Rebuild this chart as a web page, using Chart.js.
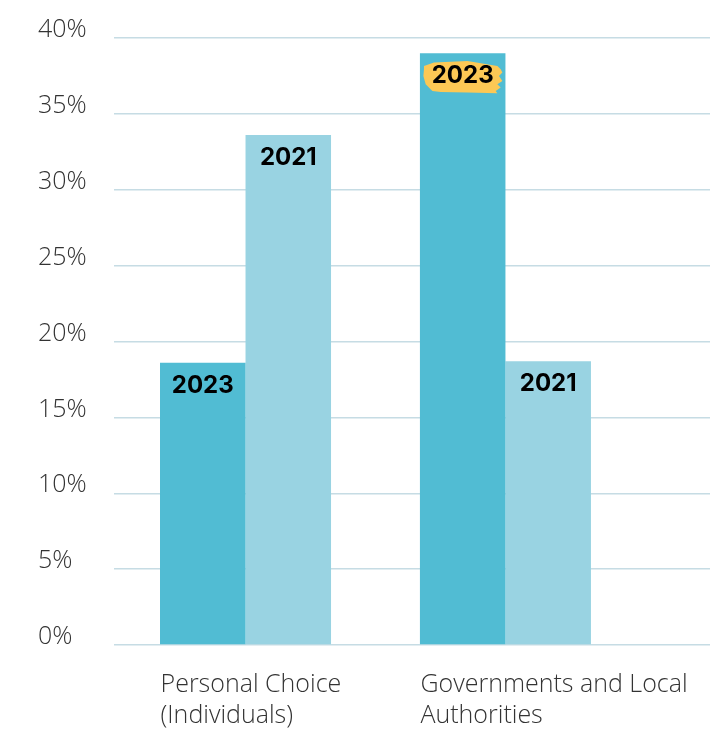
<!DOCTYPE html>
<html><head><meta charset="utf-8">
<script src="https://cdn.jsdelivr.net/npm/chart.js@4/dist/chart.umd.min.js"></script>
<style>html,body{margin:0;padding:0;background:#fff;}</style>
</head><body>
<canvas id="c" width="722" height="729"></canvas>
<script>
// ---- data ----
const categories = [["Personal Choice", "(Individuals)"], ["Governments and Local", "Authorities"]];
const seriesNames = ["2023", "2021"];
const values2023 = [18.6, 39.0];
const values2021 = [33.6, 18.7];
const yTickValues = [0, 5, 10, 15, 20, 25, 30, 35, 40];
const highlight2023 = [false, true];
const highlight2021 = [false, false];

const colors = ["#51BCD3", "#99D3E2"];
const highlights = [highlight2023, highlight2021];
const seriesValues = [values2023, values2021];

function drawBrush(ctx, cx, cy) {
  const pts = [[-38.7,-10.3],[-28.7,-13.7],[4.7,-15.3],[34.7,-10.3],[38,-7],[39.7,-3.7],[36.3,-0.3],[39.7,4.7],[34.7,8],[38,11.3],[33,14.7],[34.7,17],[4.7,16.3],[-22,15.7],[-30.3,14.7],[-37,8],[-39.3,-0.3],[-38.7,-7]];
  ctx.save();
  ctx.fillStyle = "#FCC855";
  ctx.beginPath();
  pts.forEach((p, i) => { if (i === 0) ctx.moveTo(cx + p[0], cy + p[1]); else ctx.lineTo(cx + p[0], cy + p[1]); });
  ctx.closePath();
  ctx.fill();
  ctx.restore();
}

const barLabels = {
  id: 'barLabels',
  afterDatasetsDraw(chart) {
    const ctx = chart.ctx;
    chart.data.datasets.forEach((ds, di) => {
      const meta = chart.getDatasetMeta(di);
      meta.data.forEach((bar, i) => {
        const x = bar.x, y = bar.y + 23;
        if (highlights[di][i]) drawBrush(ctx, x, y);
        ctx.save();
        ctx.font = "bold 24px Inter, 'DejaVu Sans', sans-serif";
        ctx.fillStyle = "#000";
        ctx.textAlign = "center";
        ctx.textBaseline = "middle";
        ctx.fillText(ds.label, x, y);
        ctx.restore();
      });
    });
  }
};

new Chart(document.getElementById('c'), {
  type: 'bar',
  data: {
    datasets: seriesNames.map((name, di) => ({
      label: name,
      data: seriesValues[di].map((v, i) => ({ x: i, y: v })),
      backgroundColor: colors[di],
      borderWidth: 0,
      categoryPercentage: 0.658,
      barPercentage: 1.0
    }))
  },
  options: {
    responsive: false,
    animation: false,
    layout: { padding: { left: 38, top: 38, right: 12, bottom: 0 } },
    plugins: { legend: { display: false }, tooltip: { enabled: false } },
    scales: {
      x: {
        type: 'linear',
        offset: false,
        min: -0.506,
        max: 1.787,
        grid: { display: false, drawTicks: false },
        border: { display: false },
        afterBuildTicks: (scale) => { scale.ticks = categories.map((_, i) => ({ value: i })); },
        afterFit: (scale) => { scale.height = 84; scale.paddingLeft = 0; scale.paddingRight = 0; },
        ticks: {
          callback: (v) => categories[Math.round(v)],
          align: 'start',
          labelOffset: -85,
          padding: 24,
          maxRotation: 0,
          autoSkip: false,
          color: '#333',
          font: { family: "'Open Sans', Lato, sans-serif", size: 25, weight: 300, lineHeight: 1.24 }
        }
      },
      y: {
        min: 0,
        max: 40,
        afterBuildTicks: (scale) => { scale.ticks = yTickValues.map(v => ({ value: v })); },
        afterFit: (scale) => { scale.width = 76; },
        grid: { color: '#C6DCE4', lineWidth: 1.5, drawTicks: false },
        border: { display: false },
        ticks: {
          callback: (v) => v + '%',
          crossAlign: 'far',
          labelOffset: -8,
          color: '#333',
          font: { family: "'Open Sans', Lato, sans-serif", size: 25, weight: 300 }
        }
      }
    }
  },
  plugins: [barLabels]
});
</script>
</body></html>
